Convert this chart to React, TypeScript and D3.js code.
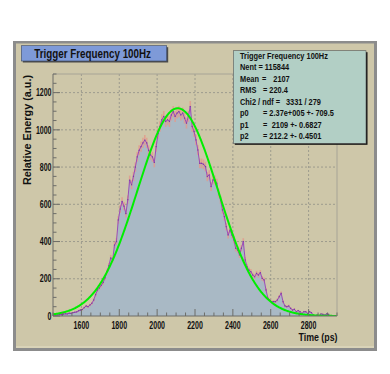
import React from "react";
import * as d3 from "d3";

// histogram, 10 ps bins starting at 1450 ps
const binStart = 1450;
const binWidth = 10;
const counts = [
  5, 4, 6, 8, 7, 10, 12, 11, 15, 14,
  18, 20, 22, 28, 32, 35, 45, 54, 50, 59,
  68, 86, 115, 140, 150, 165, 180, 205, 238, 270,
  312, 300, 381, 400, 516, 575, 615, 590, 550, 625,
  730, 705, 750, 800, 855, 890, 910, 930, 945, 930,
  890, 865, 855, 825, 910, 980, 1018, 1054, 1072, 1045,
  1054, 1045, 1080, 1098, 1072, 1090, 1098, 1080, 1090, 1063,
  1036, 1072, 1125, 1018, 991, 946, 892, 820, 820, 815,
  803, 749, 758, 695, 731, 731, 713, 660, 624, 570,
  534, 480, 435, 462, 435, 409, 364, 355, 328, 364,
  400, 301, 265, 247, 238, 220, 211, 229, 220, 233,
  202, 194, 140, 95, 86, 77, 77, 77, 86, 104,
  122, 77, 54, 50, 54, 41, 32, 36, 23, 29,
  23, 14, 23, 23, 14, 23, 18, 5, 0, 5,
  0, 11, 9, 5, 11, 9, 0, 2, 0, 0,
];

// gaussian fit (p1, p2 from the stats box, peak height)
const fitPeak = 1116;
const fitMean = 2109;
const fitSigma = 212.2;

const xTicks = [1600, 1800, 2000, 2200, 2400, 2600, 2800];
const yTicks = [0, 200, 400, 600, 800, 1000, 1200];

const title = "Trigger Frequency 100Hz";
const statRows = [
  ["Trigger Frequency 100Hz"],
  ["Nent = 115844"],
  ["Mean", "=", "2107"],
  ["RMS", "=", "220.4"],
  ["Chi2 / ndf =", "3331 / 279"],
  ["p0", "= 2.37e+005 +- 709.5"],
  ["p1", "=", "2109 +- 0.6827"],
  ["p2", "= 212.2 +- 0.4501"],
];
const statCols = [
  [240],
  [240],
  [240, 262, 273.3],
  [240, 263, 269.3],
  [240, 286],
  [240, 263],
  [240, 263, 271.7],
  [240, 263],
];

const W = 390, H = 374;
const left = 53, right = 337, top = 74, bottom = 316;
const font = "'Liberation Sans', Arial, sans-serif";

export default function App() {
  const x = d3.scaleLinear().domain([1450, 2950]).range([left, right]);
  const y = d3.scaleLinear().domain([0, 1300]).range([bottom, top]);

  const bins = counts.map((v, i) => ({ lo: binStart + i * binWidth, v }));
  const stepData = [...bins, { lo: binStart + bins.length * binWidth, v: 0 }];

  const area = d3.area<{ lo: number; v: number }>()
    .x(d => x(d.lo))
    .y0(bottom)
    .y1(d => y(d.v))
    .curve(d3.curveStepAfter);

  const line = d3.line<{ lo: number; v: number }>()
    .x(d => x(d.lo + binWidth / 2))
    .y(d => y(d.v));

  const fitLine = d3.line<number>()
    .x(t => x(t))
    .y(t => y(fitPeak * Math.exp(-0.5 * ((t - fitMean) / fitSigma) ** 2)));
  const fitPts = d3.range(1450, 2951, 3);

  const xMinor = d3.range(1450, 2951, 50);
  const yMinor = d3.range(0, 1301, 50);

  return (
    <div style={{ position: "absolute", left: 0, top: 0 }}>
      <svg width={W} height={H} style={{ display: "block" }}>
        <rect width={W} height={H} fill="#ffffff" />
        {/* canvas */}
        <rect x={13} y={41} width={364} height={310} fill="#8c8c8c" />
        <rect x={16} y={43.5} width={358} height={304.5} fill="#cec7a9" />
        <line x1={16} x2={374} y1={347} y2={347} stroke="#e4dfc6" strokeWidth={1} />

        <defs>
          <clipPath id="plot">
            <rect x={left} y={top} width={right - left} height={bottom - top} />
          </clipPath>
        </defs>

        {/* grid */}
        <g stroke="#8f8f86" strokeWidth={0.8} strokeDasharray="2,2">
          {xTicks.map(t => (
            <line key={"gx" + t} x1={x(t)} x2={x(t)} y1={top} y2={bottom} />
          ))}
          {yTicks.slice(1).map(t => (
            <line key={"gy" + t} x1={left} x2={right} y1={y(t)} y2={y(t)} />
          ))}
        </g>

        <g clipPath="url(#plot)">
          <path d={area(stepData) ?? ""} fill="#a9b9c5" />
          <g stroke="#e49a8c" strokeWidth={1.6} opacity={0.8}>
            {bins.map(b => {
              const e = Math.sqrt(b.v) * 0.9;
              return (
                <line key={"e" + b.lo} x1={x(b.lo + binWidth / 2)} x2={x(b.lo + binWidth / 2)}
                  y1={y(b.v + e)} y2={y(Math.max(0, b.v - e))} />
              );
            })}
          </g>
          <path d={line(bins) ?? ""} fill="none" stroke="#9a4cb8" strokeWidth={1} />
          {bins.map(b => (
            <rect key={"m" + b.lo} x={x(b.lo + binWidth / 2) - 0.6} y={y(b.v) - 0.6}
              width={1.2} height={1.2} fill="#7a3aa8" />
          ))}
          <path d={fitLine(fitPts) ?? ""} fill="none" stroke="#00ee00" strokeWidth={2} />
        </g>

        {/* frame */}
        <line x1={left} x2={right} y1={top} y2={top} stroke="#a7a496" strokeWidth={1} />
        <line x1={right} x2={right} y1={top} y2={bottom} stroke="#a7a496" strokeWidth={1} />
        <line x1={left} x2={left} y1={top} y2={bottom} stroke="#6d6d68" strokeWidth={1} />
        <line x1={left} x2={right} y1={bottom} y2={bottom} stroke="#6d6d68" strokeWidth={1} />

        {/* ticks */}
        <g stroke="#6d6d68" strokeWidth={1}>
          {xMinor.map(t => {
            const major = xTicks.includes(t);
            return <line key={"tx" + t} x1={x(t)} x2={x(t)} y1={bottom} y2={bottom - (major ? 7 : 3.5)} />;
          })}
          {yMinor.map(t => {
            const major = yTicks.includes(t);
            return <line key={"ty" + t} x1={left} x2={left + (major ? 7 : 3.5)} y1={y(t)} y2={y(t)} />;
          })}
        </g>

        <g fontFamily={font} fontWeight="bold" fontSize={10.5} fill="#111">
          {xTicks.map(t => {
            const s = String(t);
            return (
              <text key={"lx" + t} x={x(t)} y={329} fontSize={10} textAnchor="middle"
                textLength={s.length * 3.9} lengthAdjust="spacingAndGlyphs">{s}</text>
            );
          })}
          {yTicks.map(t => {
            const s = String(t);
            return (
              <text key={"ly" + t} x={51.5} y={y(t) + 3.7} textAnchor="end"
                textLength={s.length * 3.9} lengthAdjust="spacingAndGlyphs">{s}</text>
            );
          })}
          <text x={337.5} y={341} textAnchor="end" fontSize={10}
            textLength={39} lengthAdjust="spacingAndGlyphs">Time (ps)</text>
          <text transform="translate(30.5,75) rotate(-90)" textAnchor="end" fontSize={10.5}
            textLength={110} lengthAdjust="spacingAndGlyphs">Relative Energy (a.u.)</text>
        </g>

        {/* title box */}
        <rect x={22.8} y={47.2} width={145.4} height={15.3} fill="#4a4a4a" />
        <rect x={21.3} y={45.7} width={145.4} height={15.3} fill="#7e9ad8" stroke="#3d4a66" strokeWidth={0.6} />
        <text x={34.3} y={57.5} fontFamily={font} fontWeight="bold" fontSize={12.5} fill="#111"
          textLength={116.7} lengthAdjust="spacingAndGlyphs">{title}</text>

        {/* stats box */}
        <rect x={234.8} y={52.2} width={132.7} height={92.6} fill="#111" />
        <rect x={233.3} y={50.7} width={132.7} height={92.6} fill="#b2cfc5" stroke="#555" strokeWidth={0.6} />
        <g fontFamily={font} fontSize={8.6} fill="#111" fontWeight="bold">
          {statRows.map((row, i) =>
            row.map((s, j) => (
              <text key={"s" + i + "-" + j} x={statCols[i][j]} y={58.7 + i * 11.5}
                transform={`translate(${statCols[i][j]},0) scale(0.86,1) translate(${-statCols[i][j]},0)`}>
                {s}
              </text>
            ))
          )}
        </g>
      </svg>
    </div>
  );
}
